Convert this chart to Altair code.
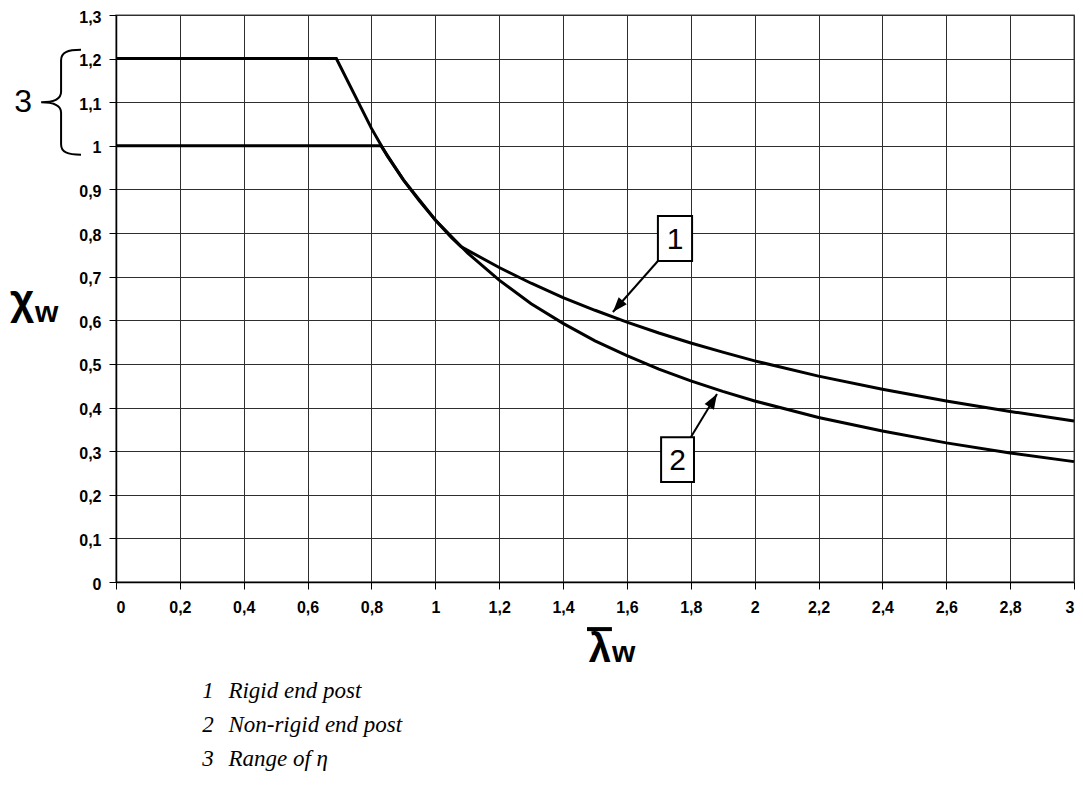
import altair as alt
import pandas as pd

# ---- data ----
# curve 1: rigid end post (upper plateau 1.2)
lam_rigid = [0, 0.69, 0.8, 0.85, 0.9, 0.95, 1.0, 1.05, 1.08, 1.1, 1.2, 1.3, 1.4, 1.5,
             1.6, 1.7, 1.8, 1.9, 2.0, 2.2, 2.4, 2.6, 2.8, 3.0]
chi_rigid = [1.2, 1.2, 1.04, 0.976, 0.922, 0.874, 0.83, 0.79, 0.769, 0.761, 0.721, 0.685,
             0.652, 0.623, 0.596, 0.571, 0.548, 0.527, 0.507, 0.472, 0.442, 0.415, 0.391, 0.369]
# curve 2: non-rigid end post (plateau 1.0)
lam_nonrigid = [0, 0.83, 0.9, 1.0, 1.1, 1.2, 1.3, 1.4, 1.5, 1.6, 1.7, 1.8, 1.9, 2.0,
                2.2, 2.4, 2.6, 2.8, 3.0]
chi_nonrigid = [1.0, 1.0, 0.922, 0.83, 0.755, 0.692, 0.638, 0.593, 0.553, 0.519, 0.488,
                0.461, 0.437, 0.415, 0.377, 0.346, 0.319, 0.296, 0.276]

x_ticks = [0, 0.2, 0.4, 0.6, 0.8, 1, 1.2, 1.4, 1.6, 1.8, 2, 2.2, 2.4, 2.6, 2.8, 3]
y_ticks = [0, 0.1, 0.2, 0.3, 0.4, 0.5, 0.6, 0.7, 0.8, 0.9, 1, 1.1, 1.2, 1.3]

# annotation boxes "1" and "2"
box_label = ["1", "2"]
box_x1 = [1.697, 1.707]
box_x2 = [1.804, 1.810]
box_y1 = [0.736, 0.229]
box_y2 = [0.839, 0.332]
# arrows (start -> tip)
arr_x1 = [1.697, 1.80]
arr_y1 = [0.736, 0.332]
arr_x2 = [1.556, 1.882]
arr_y2 = [0.619, 0.431]
arr_angle = [221, 31]

legend_num = ["1", "2", "3"]
legend_txt = ["Rigid end post", "Non-rigid end post", "Range of η"]
legend_y = [-0.249, -0.327, -0.405]

LBL = "replace(format(datum.value, '~g'), '.', ',')"

curves = pd.DataFrame({
    "lam": lam_rigid + lam_nonrigid,
    "chi": chi_rigid + chi_nonrigid,
    "series": ["1"] * len(lam_rigid) + ["2"] * len(lam_nonrigid),
})

xs = alt.Scale(domain=[0, 3], nice=False, zero=False)
ys = alt.Scale(domain=[0, 1.3], nice=False, zero=False)
AX_STYLE = dict(labelFont="Liberation Sans", labelFontWeight="bold", labelFontSize=16,
                labelColor="black", tickColor="black", domainColor="black", domainWidth=1.5,
                tickSize=7, tickWidth=1, gridColor="#2e2e2e", gridWidth=1, gridOpacity=1,
                title=None, grid=True)
XA = alt.Axis(values=x_ticks, labelExpr=LBL, labelPadding=10, **AX_STYLE)
YA = alt.Axis(values=y_ticks, labelExpr=LBL, labelPadding=8, labelOffset=2, **AX_STYLE)


def X(f):
    return alt.X(f, scale=xs, axis=XA)


def Y(f):
    return alt.Y(f, scale=ys, axis=YA)


lines = alt.Chart(curves).mark_line(color="black", strokeWidth=3).encode(
    x=X("lam:Q"), y=Y("chi:Q"), detail="series:N")

boxes_df = pd.DataFrame({"t": box_label, "x1": box_x1, "x2": box_x2, "y1": box_y1, "y2": box_y2})
arrows_df = pd.DataFrame({"x1": arr_x1, "y1": arr_y1, "x2": arr_x2, "y2": arr_y2, "a": arr_angle})

arrow_lines = alt.Chart(arrows_df).mark_rule(color="black", strokeWidth=2).encode(
    x=X("x1:Q"), y=Y("y1:Q"), x2="x2:Q", y2="y2:Q")

ARROW = "M0,0L-0.36,1L0.36,1Z"
arrow_heads = alt.Chart(arrows_df).mark_point(shape=ARROW, filled=True, color="black",
                                              size=900, opacity=1).encode(
    x=X("x2:Q"), y=Y("y2:Q"), angle=alt.Angle("a:Q", scale=None))

box_rects = alt.Chart(boxes_df).mark_rect(fill="white", stroke="black", strokeWidth=2).encode(
    x=X("x1:Q"), x2="x2:Q", y=Y("y1:Q"), y2="y2:Q")

box_text = alt.Chart(boxes_df).transform_calculate(
    cx="(datum.x1 + datum.x2) / 2", cy="(datum.y1 + datum.y2) / 2"
).mark_text(font="Liberation Sans", fontSize=30, color="black", baseline="middle",
            align="center", dy=1).encode(x=X("cx:Q"), y=Y("cy:Q"), text="t:N")

# brace for the range of eta
BRACE = ("M0.38,-1C0.12,-1 0,-0.95 0,-0.8L0,-0.2C0,-0.05 -0.15,0 -0.38,0"
         "C-0.15,0 0,0.05 0,0.2L0,0.8C0,0.95 0.12,1 0.38,1")
brace_df = pd.DataFrame({"x": [-0.172], "y": [1.1]})
brace = alt.Chart(brace_df).mark_point(shape=BRACE, filled=False, stroke="black",
                                       strokeWidth=2, size=11025, opacity=1).encode(
    x=X("x:Q"), y=Y("y:Q"))


def txt(x, y, s, size, weight="normal", align="center", baseline="alphabetic",
        font="Liberation Sans", style="normal"):
    d = pd.DataFrame({"x": [x], "y": [y], "s": [s]})
    return alt.Chart(d).mark_text(fontSize=size, fontWeight=weight, align=align,
                                  baseline=baseline, font=font, fontStyle=style,
                                  color="black").encode(x=X("x:Q"), y=Y("y:Q"), text="s:N")


three = txt(-0.291, 1.1, "3", 32, baseline="middle")
chi_t = txt(-0.294, 0.614, "χ", 42, weight="bold")
chi_w = txt(-0.254, 0.596, "w", 30, weight="bold", align="left")
lam_t = txt(1.515, -0.184, "λ", 40, weight="bold")
lam_w = txt(1.553, -0.184, "w", 30, weight="bold", align="left")

over_df = pd.DataFrame({"x": [1.475], "x2": [1.553], "y": [-0.108]})
overline = alt.Chart(over_df).mark_rule(color="black", strokeWidth=4).encode(
    x=X("x:Q"), x2="x2:Q", y=Y("y:Q"))

leg_df = pd.DataFrame({"n": legend_num, "t": legend_txt, "y": legend_y,
                       "xn": [0.27] * 3, "xt": [0.352] * 3})
leg_num = alt.Chart(leg_df).mark_text(font="Liberation Serif", fontStyle="italic", fontSize=23,
                                      align="left", color="black").encode(
    x=X("xn:Q"), y=Y("y:Q"), text="n:N")
leg_txt = alt.Chart(leg_df).mark_text(font="Liberation Serif", fontStyle="italic", fontSize=23,
                                      align="left", color="black").encode(
    x=X("xt:Q"), y=Y("y:Q"), text="t:N")

chart = alt.layer(
    lines, arrow_lines, arrow_heads, box_rects, box_text, brace, three,
    chi_t, chi_w, lam_t, lam_w, overline, leg_num, leg_txt
).properties(
    width=958, height=567,
    autosize=alt.AutoSizeParams(type="none"),
    padding={"left": 108, "top": 7, "right": 1, "bottom": 196},
).configure_view(stroke="#808080", strokeWidth=1.5)

chart.save("out.html", embed_options={"renderer": "svg", "actions": False})
